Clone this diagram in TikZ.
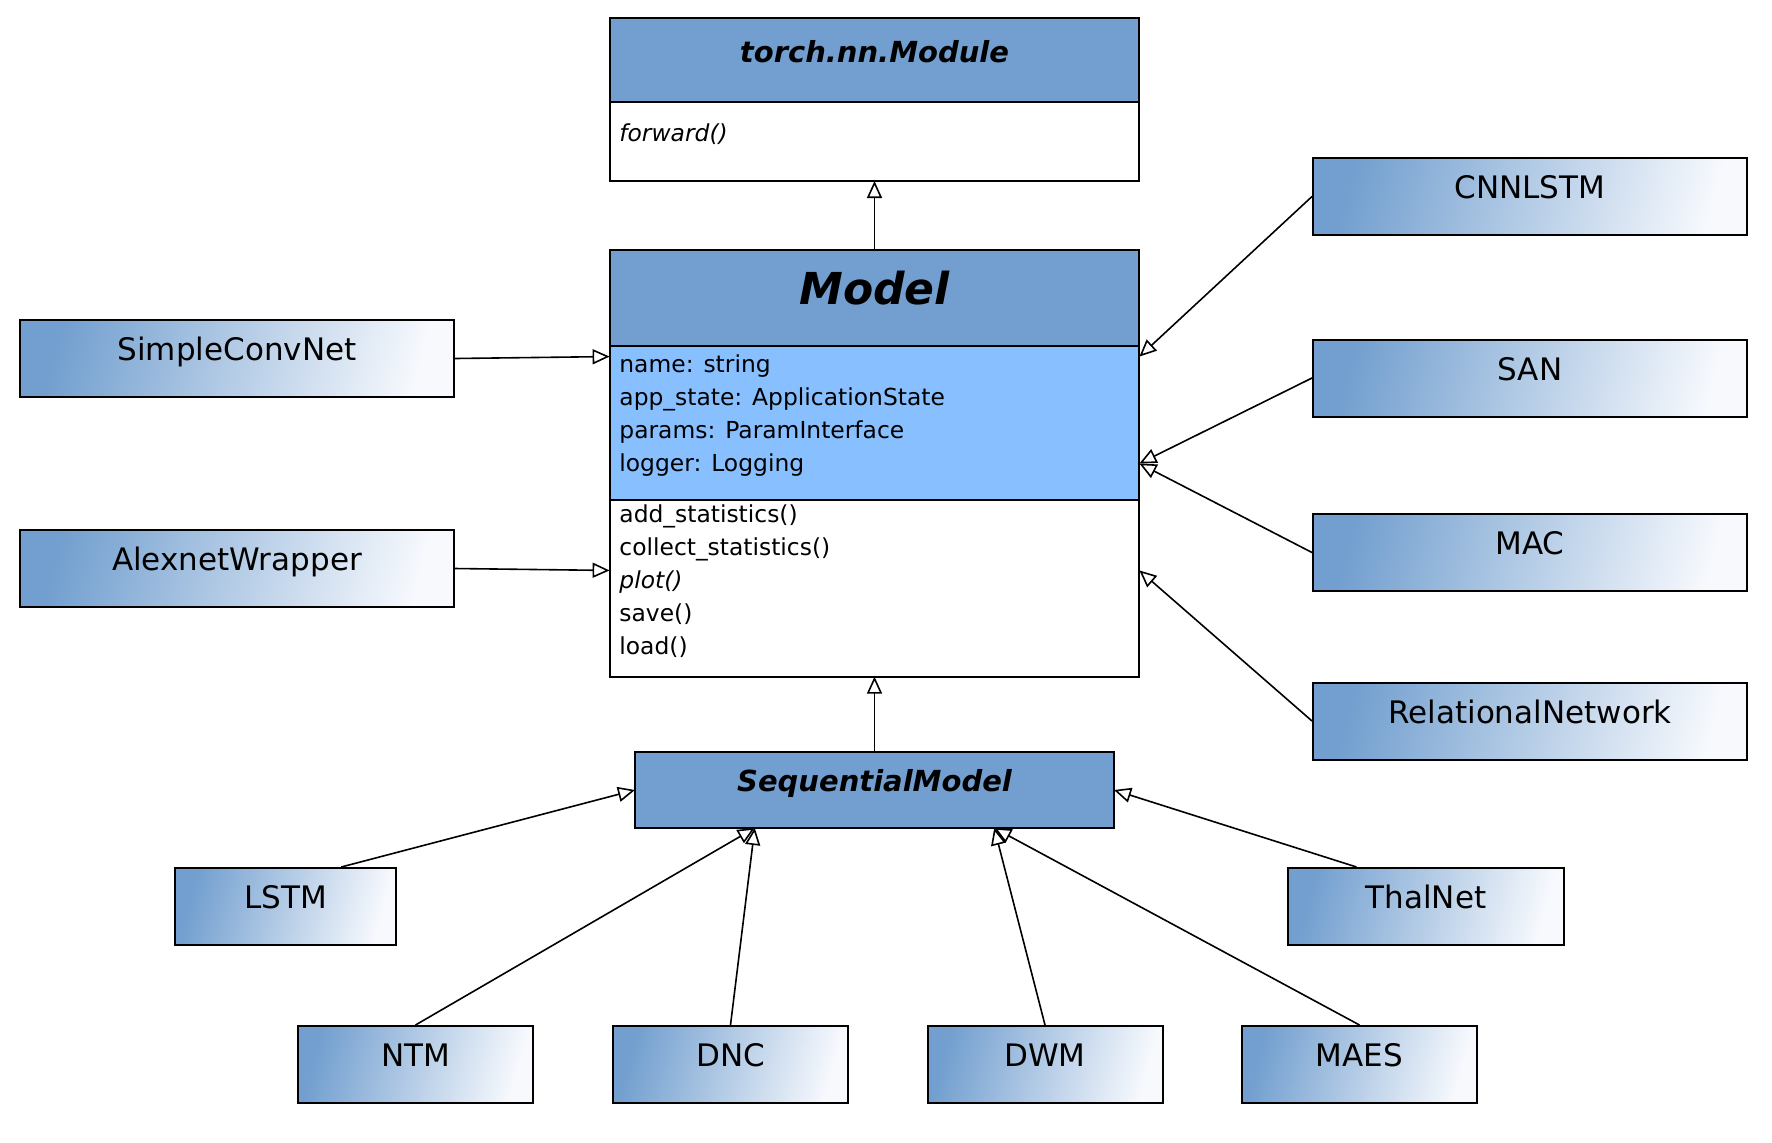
\documentclass[tikz,border=0pt]{standalone}
\usepackage{fontspec}
\setmainfont{DejaVu Sans}
\usepackage{xcolor}
\usepackage{tikz}
\usetikzlibrary{calc}
\usetikzlibrary{arrows.meta}

\definecolor{headblue}{RGB}{114,159,207}
\definecolor{attrblue}{RGB}{135,191,255}
\definecolor{fadeblue}{RGB}{247,249,253}

\tikzstyle{compart} = [draw=black, line width=1pt, rectangle, inner sep=0pt,
outer sep=0pt, minimum width=264.5pt]
\tikzstyle{classhead} = [compart, fill=headblue,
font=\fontsize{14.5}{17}\selectfont\bfseries\itshape, text height=12pt, text depth=10pt]
\tikzstyle{subclass} = [draw=black, line width=1pt, rectangle, inner sep=0pt,
minimum height=38.5pt, top color=headblue, bottom color=fadeblue, shading angle=75,
font=\fontsize{15.5}{18}\selectfont, text height=12pt, text depth=10pt]
\tikzstyle{member} = [anchor=base west, inner sep=0pt, font=\fontsize{11.7}{14}\selectfont]
\tikzstyle{inherit} = [draw=black, line width=0.8pt,
-{Triangle[open, length=8.5pt, width=7.5pt]}]

\begin{document}
\begin{tikzpicture}[x=0.5pt, y=-0.5pt]
    \useasboundingbox (0,0) rectangle (1772,1142);
    % torch base class
    \node[classhead, minimum height=42pt] (torchHead) at (874.5,60) {torch.nn.Module};
    \node[compart, fill=white, minimum height=39.5pt, anchor=north] (torchBody) at (torchHead.south) {};
    \node[member] (forward) at ($(torchBody.west)+(9,0)$) {\textit{forward()}};

    % Model class
    \node[minimum width=264.5pt, minimum height=213.5pt, inner sep=0pt] (model) at (874.5,463.5) {};
    \node[classhead, minimum height=48pt, anchor=north, font=\fontsize{22}{26}\selectfont\bfseries\itshape,
        text height=18pt, text depth=11pt] (modelHead) at (model.north) {Model};
    \node[compart, fill=attrblue, minimum height=77pt, anchor=north] (modelAttr) at (modelHead.south) {};
    \node[compart, fill=white, minimum height=88.5pt, anchor=north] (modelOps) at (modelAttr.south) {};
    \foreach \attr [count=\i] in {name: string, app\_state: ApplicationState,
        params: ParamInterface, logger: Logging}
        \node[member] (attr\i) at ($(modelAttr.north west)+(9,{27+33*(\i-1)})$) {\attr};
    \foreach \op [count=\i] in {add\_statistics(), collect\_statistics(), \textit{plot()}, save(), load()}
        \node[member] (op\i) at ($(modelOps.north west)+(9,{23+33*(\i-1)})$) {\op};

    % direct subclasses
    \node[subclass, minimum width=217pt] (simple) at (237,358.5) {SimpleConvNet};
    \node[subclass, minimum width=217pt] (alexnet) at (237,568.5) {AlexnetWrapper};
    \node[subclass, minimum width=217pt] (cnnlstm) at (1530,196.5) {CNNLSTM};
    \node[subclass, minimum width=217pt] (san) at (1530,378) {SAN};
    \node[subclass, minimum width=217pt] (mac) at (1530,552.5) {MAC};
    \node[subclass, minimum width=217pt] (relnet) at (1530,721) {RelationalNetwork};
    \node[classhead, minimum width=239.5pt, minimum height=38pt, text depth=11pt] (seq) at (874.5,790) {SequentialModel};

    % sequential subclasses
    \node[subclass, minimum width=110.5pt] (lstm) at (285.5,906.5) {LSTM};
    \node[subclass, minimum width=138pt] (thalnet) at (1426,906.5) {ThalNet};
    \node[subclass, minimum width=117.5pt] (ntm) at (415.5,1064.5) {NTM};
    \node[subclass, minimum width=117.5pt] (dnc) at (730.5,1064.5) {DNC};
    \node[subclass, minimum width=117.5pt] (dwm) at (1045,1064.5) {DWM};
    \node[subclass, minimum width=117.5pt] (maes) at (1359.5,1064.5) {MAES};

    \coordinate (modelL1) at ($(model.north west)!.25!(model.south west)$);
    \coordinate (modelL3) at ($(model.north west)!.75!(model.south west)$);
    \coordinate (modelR1) at ($(model.north east)!.25!(model.south east)$);
    \coordinate (modelR3) at ($(model.north east)!.75!(model.south east)$);
    \coordinate (seqB1) at ($(seq.south west)!.25!(seq.south east)$);
    \coordinate (seqB3) at ($(seq.south west)!.75!(seq.south east)$);

    \draw[inherit] (modelHead.north) -- (torchBody.south);
    \draw[inherit] (seq.north) -- (modelOps.south);
    \draw[inherit] (simple.east) -- (modelL1);
    \draw[inherit] (alexnet.east) -- (modelL3);
    \draw[inherit] (cnnlstm.west) -- (modelR1);
    \draw[inherit] (san.west) -- (model.east);
    \draw[inherit] (mac.west) -- (model.east);
    \draw[inherit] (relnet.west) -- (modelR3);
    \draw[inherit] ($(lstm.north west)!.75!(lstm.north east)$) -- (seq.west);
    \draw[inherit] ($(thalnet.north west)!.25!(thalnet.north east)$) -- (seq.east);
    \draw[inherit] (ntm.north) -- (seqB1);
    \draw[inherit] (dnc.north) -- (seqB1);
    \draw[inherit] (dwm.north) -- (seqB3);
    \draw[inherit] (maes.north) -- (seqB3);
\end{tikzpicture}
\end{document}
